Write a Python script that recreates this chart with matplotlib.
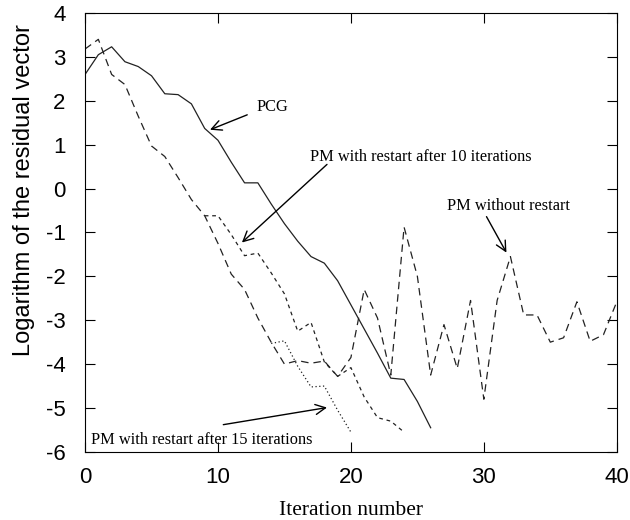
import matplotlib.pyplot as plt

plt.rcParams['axes.unicode_minus'] = False

# iteration numbers and log residuals
it_pcg = list(range(0, 27))
pcg = [2.6, 3.05, 3.23, 2.89, 2.78, 2.57, 2.16, 2.14, 1.93, 1.37, 1.1, 0.6, 0.13,
       0.13, -0.35, -0.8, -1.2, -1.55, -1.7, -2.1, -2.65, -3.2, -3.75, -4.32,
       -4.35, -4.85, -5.45]

it_pm = list(range(0, 41))
pm_norestart = [3.18, 3.4, 2.6, 2.37, 1.65, 0.97, 0.73, 0.25, -0.25, -0.62, -1.25,
                -1.95, -2.3, -2.95, -3.5, -4.0, -3.92, -3.98, -3.93, -4.28, -3.85,
                -2.3, -2.95, -4.25, -0.88, -2.0, -4.25, -3.1, -4.1, -2.55, -4.8,
                -2.55, -1.55, -2.88, -2.88, -3.5, -3.4, -2.58, -3.48, -3.33, -2.58]

it_r10 = list(range(9, 25))
pm_restart10 = [-0.62, -0.62, -1.05, -1.53, -1.47, -1.92, -2.4, -3.25, -3.05, -3.95,
                -4.28, -4.08, -4.75, -5.22, -5.3, -5.55]

it_r15 = list(range(14, 21))
pm_restart15 = [-3.53, -3.47, -4.05, -4.52, -4.5, -5.05, -5.55]

fig = plt.figure(figsize=(6.3, 5.2), dpi=100)
ax = fig.add_axes([0.135, 0.131, 0.844, 0.844])

col = '#222222'
ax.plot(it_pcg, pcg, color=col, lw=0.9, ls='-')
ax.plot(it_pm, pm_norestart, color=col, lw=0.9, ls=(0, (6, 4)))
ax.plot(it_r10, pm_restart10, color=col, lw=0.9, ls=(0, (3, 3)))
ax.plot(it_r15, pm_restart15, color=col, lw=0.9, ls=(0, (1, 2)))

ax.set_xlim(0, 40)
ax.set_ylim(-6, 4)
ax.set_xticks([0, 10, 20, 30, 40])
ax.set_yticks(range(-6, 5))
ax.tick_params(direction='in', length=7, top=True, right=True, labelsize=16)
ax.tick_params(axis='x', pad=11)
ax.tick_params(axis='y', pad=14)
for lab in ax.get_xticklabels() + ax.get_yticklabels():
    lab.set_fontfamily('Liberation Sans')

ax.set_xlabel('Iteration number', family='Liberation Serif', fontsize=15.5, labelpad=9)
ax.set_ylabel('Logarithm of the residual vector', family='Liberation Sans',
              fontsize=17)
ax.yaxis.set_label_coords(-0.095, 0.597)

arr = dict(arrowstyle='->', color='black', lw=1.0, mutation_scale=18, shrinkA=0, shrinkB=0)
txt = dict(family='Liberation Serif', fontsize=11.8, va='center', ha='left')

ax.annotate('', xy=(9.4, 1.34), xytext=(12.2, 1.68), arrowprops=arr)
ax.text(12.9, 1.85, 'PCG', **txt)

ax.annotate('', xy=(11.8, -1.23), xytext=(18.2, 0.55), arrowprops=arr)
ax.text(16.9, 0.73, 'PM with restart after 10 iterations', **txt)

ax.annotate('', xy=(31.7, -1.46), xytext=(30.2, -0.64), arrowprops=arr)
ax.text(27.2, -0.39, 'PM without restart', **txt)

ax.annotate('', xy=(18.2, -4.99), xytext=(10.4, -5.38), arrowprops=arr)
ax.text(0.45, -5.72, 'PM with restart after 15 iterations', **txt)

fig.savefig('out.png', dpi=100)
